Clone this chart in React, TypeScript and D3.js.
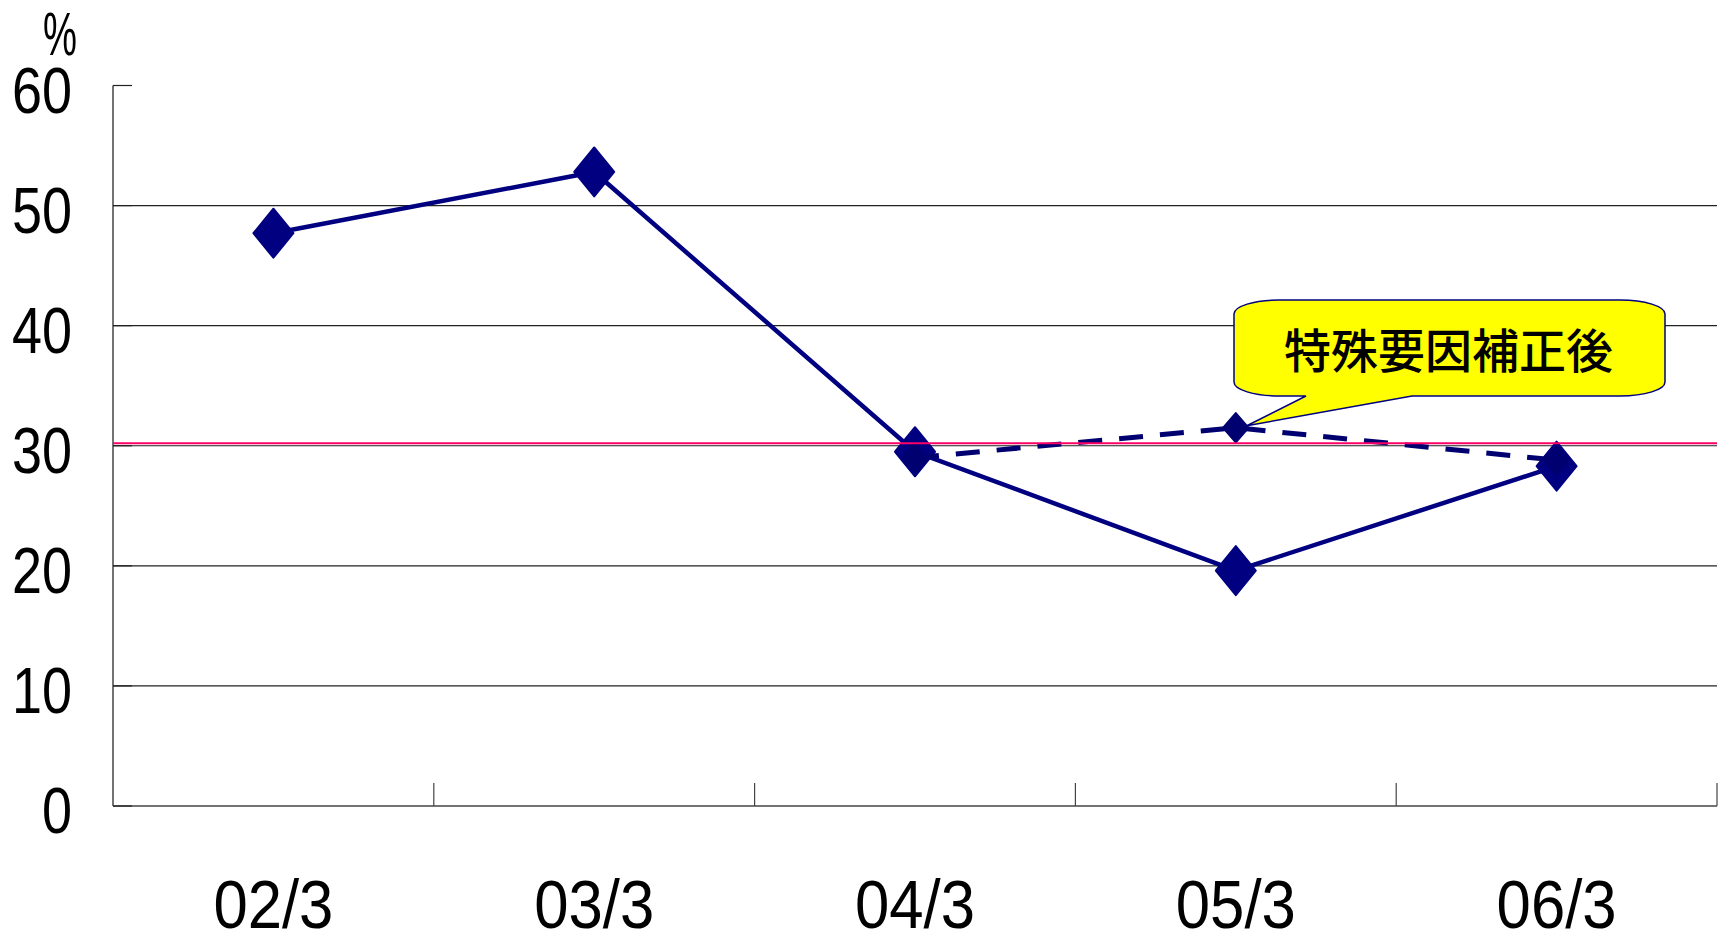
import * as d3 from "d3";
import { useEffect, useRef } from "react";

const categories = ["02/3", "03/3", "04/3", "05/3", "06/3"];
const actual = [47.7, 52.8, 29.5, 19.6, 28.3];
const adjusted: (number | null)[] = [null, null, 29.0, 31.5, 28.8];
const yTicks = [0, 10, 20, 30, 40, 50, 60];
const refLevel = 30.2;
const calloutText = "特殊要因補正後";
const unitLabel = "%";

const numFont = "'Liberation Sans Narrow', 'Liberation Sans', Arial, sans-serif";

export default function App() {
  const svgRef = useRef<SVGSVGElement | null>(null);

  useEffect(() => {
    const svg = d3.select(svgRef.current);
    const width = 1719;
    const height = 935;
    const margin = { top: 85.5, right: 2, bottom: 129, left: 113 };

    svg.selectAll("*").remove();
    svg.attr("width", width).attr("height", height);

    const x = d3
      .scaleBand<string>()
      .domain(categories)
      .range([margin.left, width - margin.right])
      .padding(0);

    const y = d3
      .scaleLinear()
      .domain([0, 60])
      .range([height - margin.bottom, margin.top]);

    const cx = (c: string) => (x(c) as number) + x.bandwidth() / 2;

    // gridlines
    svg
      .selectAll(".grid")
      .data(yTicks.filter((t) => t > 0 && t < 60))
      .enter()
      .append("line")
      .attr("x1", margin.left)
      .attr("x2", width - margin.right)
      .attr("y1", (d) => y(d))
      .attr("y2", (d) => y(d))
      .attr("stroke", "#222")
      .attr("stroke-width", 1.2);

    // axes
    const axisColor = "#444";
    svg
      .append("line")
      .attr("x1", margin.left)
      .attr("x2", margin.left)
      .attr("y1", y(60))
      .attr("y2", y(0))
      .attr("stroke", axisColor)
      .attr("stroke-width", 1.5);
    svg
      .append("line")
      .attr("x1", margin.left)
      .attr("x2", width - margin.right)
      .attr("y1", y(0))
      .attr("y2", y(0))
      .attr("stroke", axisColor)
      .attr("stroke-width", 1.5);

    svg
      .selectAll(".ytick")
      .data(yTicks)
      .enter()
      .append("line")
      .attr("x1", margin.left)
      .attr("x2", margin.left + 19)
      .attr("y1", (d) => y(d))
      .attr("y2", (d) => y(d))
      .attr("stroke", "#222")
      .attr("stroke-width", 1.2);

    svg
      .selectAll(".xtick")
      .data(categories)
      .enter()
      .append("line")
      .attr("x1", (d) => (x(d) as number) + x.bandwidth())
      .attr("x2", (d) => (x(d) as number) + x.bandwidth())
      .attr("y1", y(0))
      .attr("y2", y(0) - 23)
      .attr("stroke", axisColor)
      .attr("stroke-width", 1.2);

    // tick labels
    svg
      .selectAll(".ylabel")
      .data(yTicks)
      .enter()
      .append("text")
      .attr("x", 72)
      .attr("y", (d) => y(d) + 27)
      .attr("text-anchor", "end")
      .attr("font-family", numFont)
      .attr("font-size", "65px")
      .attr("textLength", (d) => String(d).length * 30)
      .attr("lengthAdjust", "spacingAndGlyphs")
      .attr("fill", "#000")
      .text((d) => d);

    svg
      .selectAll(".xlabel")
      .data(categories)
      .enter()
      .append("text")
      .attr("x", (d) => cx(d))
      .attr("y", 928)
      .attr("text-anchor", "middle")
      .attr("font-family", numFont)
      .attr("font-size", "69px")
      .attr("textLength", 120)
      .attr("lengthAdjust", "spacingAndGlyphs")
      .attr("fill", "#000")
      .text((d) => d);

    svg
      .append("text")
      .attr("x", 43)
      .attr("y", 55)
      .attr("font-family", numFont)
      .attr("font-size", "62px")
      .attr("textLength", 34)
      .attr("lengthAdjust", "spacingAndGlyphs")
      .attr("fill", "#000")
      .text(unitLabel);

    const diamond = (px: number, py: number, hw: number, hh: number) =>
      `M${px},${py - hh}L${px + hw},${py}L${px},${py + hh}L${px - hw},${py}Z`;

    // actual series
    const solidData = categories.map((c, i) => ({ c, v: actual[i] }));
    const line = d3
      .line<{ c: string; v: number }>()
      .x((d) => cx(d.c))
      .y((d) => y(d.v));

    svg
      .append("path")
      .datum(solidData)
      .attr("fill", "none")
      .attr("stroke", "#000080")
      .attr("stroke-width", 4.5)
      .attr("d", line);

    svg
      .selectAll(".solid-pt")
      .data(solidData)
      .enter()
      .append("path")
      .attr("d", (d) => diamond(cx(d.c), y(d.v), 20, 24.5))
      .attr("fill", "#000080")
      .attr("stroke", "#000080")
      .attr("stroke-width", 2)
      .attr("stroke-linejoin", "round");

    // adjusted series
    const dashData = categories
      .map((c, i) => ({ c, v: adjusted[i] }))
      .filter((d) => d.v !== null) as { c: string; v: number }[];

    svg
      .append("path")
      .datum(dashData)
      .attr("fill", "none")
      .attr("stroke", "#000070")
      .attr("stroke-width", 5)
      .attr("stroke-dasharray", "24,17")
      .attr("d", line);

    svg
      .selectAll(".dash-pt")
      .data(dashData)
      .enter()
      .append("path")
      .attr("d", (d) => diamond(cx(d.c), y(d.v), 13, 15))
      .attr("fill", "#000070")
      .attr("stroke", "#000070")
      .attr("stroke-width", 1.5)
      .attr("stroke-linejoin", "round");

    // reference line
    svg
      .append("line")
      .attr("x1", margin.left)
      .attr("x2", width - margin.right)
      .attr("y1", y(refLevel))
      .attr("y2", y(refLevel))
      .attr("stroke", "#ff0066")
      .attr("stroke-width", 2);

    // callout
    const tipX = cx("05/3") + 11;
    const tipY = y(31.5) - 2;
    const L = 1234;
    const R = 1665;
    const T = 300;
    const B = 396;
    const rx = 45;
    const ry = 14;
    const callout =
      `M${L + rx},${T}H${R - rx}A${rx},${ry} 0 0 1 ${R},${T + ry}` +
      `V${B - ry}A${rx},${ry} 0 0 1 ${R - rx},${B}H1412L${tipX},${tipY}L1306,${B}` +
      `H${L + rx}A${rx},${ry} 0 0 1 ${L},${B - ry}V${T + ry}A${rx},${ry} 0 0 1 ${L + rx},${T}Z`;

    svg
      .append("path")
      .attr("d", callout)
      .attr("fill", "#ffff00")
      .attr("stroke", "#000080")
      .attr("stroke-width", 1.5);

    svg
      .append("text")
      .attr("x", (L + R) / 2 - 1)
      .attr("y", 347)
      .attr("text-anchor", "middle")
      .attr("dominant-baseline", "central")
      .attr("font-family", "'Noto Sans CJK JP', sans-serif")
      .attr("font-size", "47px")
      .attr("font-weight", 500)
      .attr("fill", "#000")
      .text(calloutText);
  }, []);

  return (
    <svg
      ref={svgRef}
      style={{ position: "absolute", left: 0, top: 0, background: "#fff" }}
    ></svg>
  );
}
